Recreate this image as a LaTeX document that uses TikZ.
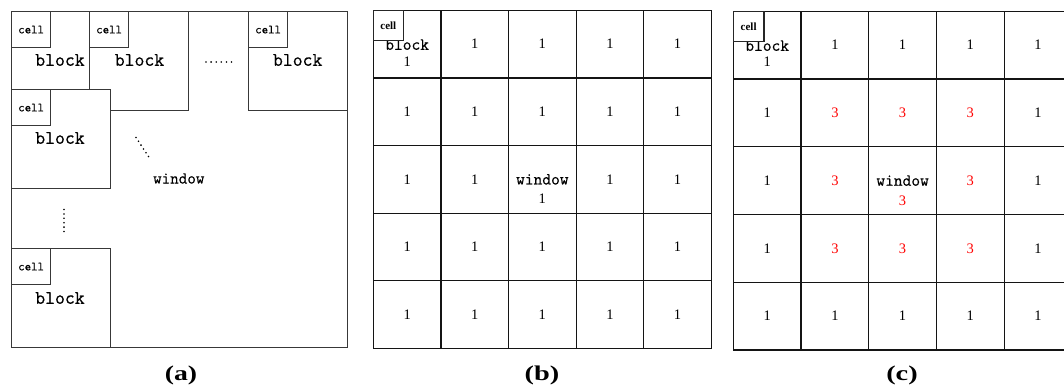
\documentclass[tikz,border=0pt]{standalone}
\usepackage{fontspec}
\setmainfont{Liberation Serif}
\newfontfamily\heavymono[FakeBold=0.5]{Latin Modern Mono}
\usepackage{graphicx}
\begin{document}
\begin{tikzpicture}[x=1pt,y=-1pt,
  abox/.style={draw=black!78, line width=1.25pt, fill=white, inner sep=0pt, anchor=north west},
  ablock/.style={abox, minimum width=99pt, minimum height=99pt},
  acell/.style={abox, minimum width=39pt, minimum height=36pt, font=\heavymono\fontsize{12.5}{12.5}\selectfont},
  ablabel/.style={inner sep=0pt, font=\heavymono\fontsize{19.2}{19.2}\selectfont},
  awlabel/.style={inner sep=0pt, font=\heavymono\fontsize{16.6}{16.6}\selectfont},
  gcell/.style={draw=black!92, line width=1.3pt, inner sep=0pt, anchor=north west, minimum width=67.6pt, minimum height=67.6pt},
  gsmall/.style={draw=black!85, line width=1.25pt, fill=white, inner sep=0pt, anchor=north west, minimum width=30pt, minimum height=30.3pt, font=\bfseries\fontsize{11}{11}\selectfont},
  glabel/.style={inner sep=0pt, font=\heavymono\fontsize{17}{17}\selectfont},
  num/.style={inner sep=0pt, font=\fontsize{14.5}{14.5}\selectfont},
  rnum/.style={num, text=red},
  captext/.style={inner sep=0pt, font=\bfseries\fontsize{21}{21}\selectfont},
  adot/.style={fill=black}
]
\useasboundingbox (0,0) rectangle (1064,388);

% ---------------- (a) ----------------
\node[abox, minimum width=336pt, minimum height=336pt] (win) at (11,11) {};
\node[ablock] (blk1) at (11,11) {};
\node[ablock] (blk2) at (89,11) {};
\node[ablock] (blk4) at (248,11) {};
\node[ablock] (blk3) at (11,89) {};
\node[ablock] (blk5) at (11,248) {};
\node[acell] (cel1) at (blk1.north west) {cell};
\node[acell] (cel2) at (blk2.north west) {cell};
\node[acell] (cel4) at (blk4.north west) {cell};
\node[acell] (cel3) at (blk3.north west) {cell};
\node[acell] (cel5) at (blk5.north west) {cell};
\node[ablabel] (bl1) at (60,60) {block};
\node[ablabel] (bl2) at (139.5,60) {block};
\node[ablabel] (bl4) at (297.7,60) {block};
\node[ablabel] (bl3) at (60,138) {block};
\node[ablabel] (bl5) at (60,298) {block};
\node[awlabel] (wl) at (178.8,178.5) {window};
\foreach \i in {0,...,5}{
  \fill[adot] ({206+5.1*\i},62) circle (0.9pt);
  \fill[adot] ({136+2.5*\i},{137.5+3.8*\i}) circle (0.9pt);
  \fill[adot] (64,{209.5+4.4*\i}) circle (0.9pt);
}
\node[captext] (capa) at (181,375) {\scalebox{1.32}[1]{(a)}};

% ---------------- (b) ----------------
\foreach \r in {1,...,5}{
  \foreach \c in {1,...,5}{
    \node[gcell] (b-\r-\c) at ({372.7+67.6*(\c-1)},{9.7+67.6*(\r-1)}) {};
  }
}
\foreach \r/\c in {1/2,1/3,1/4,1/5,2/1,2/2,2/3,2/4,2/5,3/1,3/2,3/4,3/5,4/1,4/2,4/3,4/4,4/5,5/1,5/2,5/3,5/4,5/5}{
  \node[num] at (b-\r-\c) {1};
}
\node[glabel] (bblk) at ([yshift=-0.5pt]b-1-1.center) {block};
\node[num] (bblk1) at ([yshift=-18pt]b-1-1.center) {1};
\node[glabel] (bwin) at (b-3-3.center) {window};
\node[num] (bwin1) at ([yshift=-19.5pt]b-3-3.center) {1};
\node[gsmall] (bcell) at (b-1-1.north west) {cell};
\node[captext] (capb) at (542,375) {\scalebox{1.35}[1]{(b)}};

% ---------------- (c) ----------------
\foreach \r in {1,...,5}{
  \foreach \c in {1,...,5}{
    \node[gcell, minimum width=67.7pt, minimum height=67.7pt] (c-\r-\c) at ({732.7+67.7*(\c-1)},{10.7+67.7*(\r-1)}) {};
  }
}
\foreach \r/\c in {1/2,1/3,1/4,1/5,2/1,2/5,3/1,3/5,4/1,4/5,5/1,5/2,5/3,5/4,5/5}{
  \node[num] at (c-\r-\c) {1};
}
\foreach \r/\c in {2/2,2/3,2/4,3/2,3/4,4/2,4/3,4/4}{
  \node[rnum] at (c-\r-\c) {3};
}
\node[glabel] (cblk) at ([yshift=-0.5pt]c-1-1.center) {block};
\node[num] (cblk1) at ([yshift=-17pt]c-1-1.center) {1};
\node[glabel] (cwin) at (c-3-3.center) {window};
\node[rnum] (cwin3) at ([yshift=-20.5pt]c-3-3.center) {3};
\node[gsmall, minimum width=30.6pt] (ccell) at (c-1-1.north west) {cell};
\node[captext] (capc) at (902,375) {\scalebox{1.35}[1]{(c)}};
\end{tikzpicture}
\end{document}
